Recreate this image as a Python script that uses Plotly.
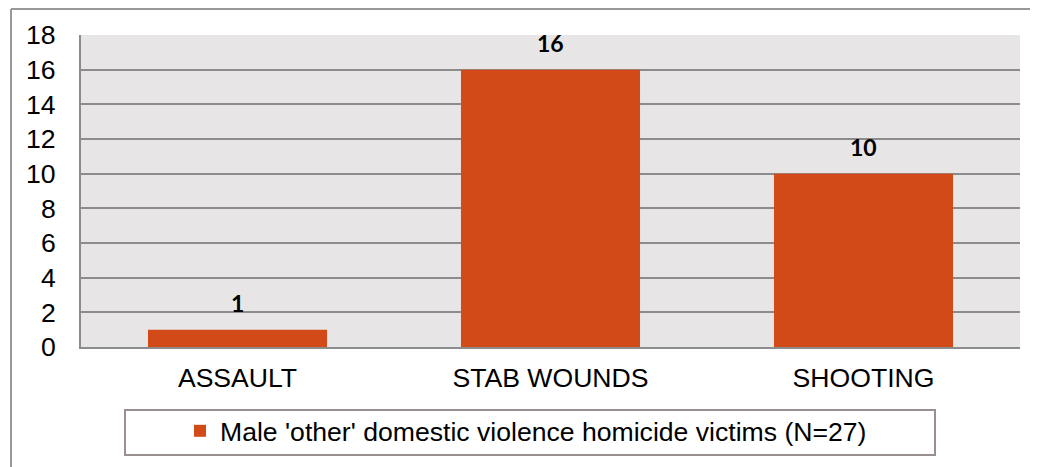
import plotly.graph_objects as go

# datos
categories = ["ASSAULT", "STAB WOUNDS", "SHOOTING"]
victims = [1, 16, 10]
series_name = "Male 'other' domestic violence homicide victims (N=27)"
y_ticks = [0, 2, 4, 6, 8, 10, 12, 14, 16, 18]

BAR_COLOR = "#d24a18"
GRID = "#8c8c8c"
FONT = "Liberation Sans, Arial, sans-serif"
FS = 26.6

# la página tiene un margen de 8px en body: se compensa aquí
OFF = 8
W, H = 1038 - OFF, 467 - OFF
ML, MR, MT, MB = 81 - OFF, 18, 35 - OFF, 120
PW, PH = W - ML - MR, H - MT - MB


def px_x(px):
    # pixel de página -> paper x
    return (px - OFF - ML) / PW


def px_y(py):
    # pixel de página -> paper y
    return (H - MB - (py - OFF)) / PH


fig = go.Figure()

fig.add_trace(go.Bar(
    x=categories,
    y=victims,
    name=series_name,
    marker_color=BAR_COLOR,
    marker_line_width=0,
    showlegend=True,
))

# etiquetas de datos encima de cada barra
for cat, val in zip(categories, victims):
    fig.add_annotation(
        x=cat, y=val, text=f"<b>{val}</b>",
        showarrow=False, yshift=27,
        font=dict(family="Lato, DejaVu Sans, sans-serif", size=23, color="#000000"),
    )

# marco del legend y marco exterior
fig.add_shape(type="rect", xref="paper", yref="paper",
              x0=px_x(125), x1=px_x(935), y0=px_y(455), y1=px_y(410),
              line=dict(color="#9a8f8f", width=2), fillcolor="white", layer="below")
fig.add_shape(type="line", xref="paper", yref="paper",
              x0=px_x(11), x1=px_x(1030), y0=px_y(9), y1=px_y(9),
              line=dict(color="#999999", width=2))
fig.add_shape(type="line", xref="paper", yref="paper",
              x0=px_x(11), x1=px_x(11), y0=px_y(9), y1=px_y(470),
              line=dict(color="#999999", width=2))

fig.update_layout(
    width=W, height=H,
    margin=dict(l=ML, r=MR, t=MT, b=MB),
    paper_bgcolor="white",
    plot_bgcolor="#e7e5e6",
    bargap=0.428,
    font=dict(family=FONT, size=FS, color="#000000"),
    legend=dict(
        orientation="h",
        x=px_x(180), xanchor="left",
        y=px_y(431), yanchor="middle",
        bgcolor="rgba(0,0,0,0)",
        borderwidth=0,
        font=dict(family=FONT, size=FS, color="#000000"),
        itemclick=False,
    ),
    showlegend=True,
)

fig.update_xaxes(
    showgrid=False,
    showline=True, linecolor=GRID, linewidth=2,
    ticks="outside", ticklen=6, tickcolor="rgba(0,0,0,0)",
    tickfont=dict(family=FONT, size=FS),
)
fig.update_yaxes(
    range=[0, 18],
    tickvals=y_ticks,
    showgrid=True, gridcolor=GRID, gridwidth=2,
    showline=True, linecolor=GRID, linewidth=2,
    zeroline=False,
    ticks="", ticklabelstandoff=18,
    tickfont=dict(family=FONT, size=FS),
)

fig.write_html("out.html")
